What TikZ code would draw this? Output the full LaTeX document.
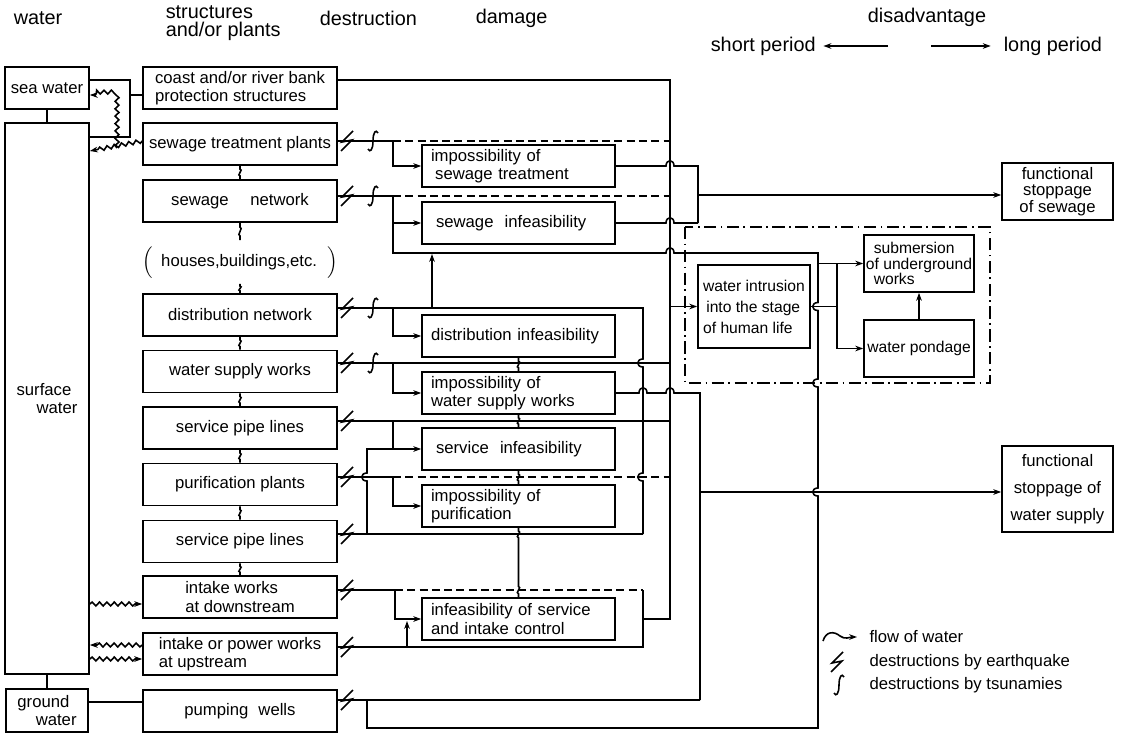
\documentclass[tikz,border=0pt]{standalone}
\usepackage{fontspec}
\setmainfont{Liberation Sans}
\usetikzlibrary{arrows.meta,calc,decorations.pathmorphing}

% hop of a horizontal line over a vertical one, and of a vertical line round a horizontal one
\newcommand{\hopx}[2]{-- (#1-4,#2) .. controls (#1-4,#2-7) and (#1+4,#2-7) .. (#1+4,#2)}
\newcommand{\hopy}[2]{-- (#1,#2-4) .. controls (#1-7,#2-4) and (#1-7,#2+4) .. (#1,#2+4)}

\begin{document}
\begin{tikzpicture}[x=0.02cm, y=-0.02cm, line width=0.9pt,
  txt/.style={font=\fontsize{9.5}{10.5}\selectfont, inner sep=1pt},
  hdr/.style={font=\fontsize{11.3}{10.6}\selectfont, inner sep=0pt, anchor=west},
  wbox/.style={txt, draw, line width=0.95pt, minimum width=1.68cm, minimum height=0.84cm},
  sbox/.style={txt, draw, line width=0.95pt, minimum width=3.88cm, minimum height=0.84cm, align=left},
  dbox/.style={txt, draw, line width=0.95pt, minimum height=0.84cm, text width=3.5cm, inner xsep=0.18cm, align=left},
  rbox/.style={txt, draw, line width=0.95pt, align=center},
  arr/.style={-{Stealth[length=4.5pt,width=3.2pt]}},
  wavy/.style={decorate, decoration={snake, amplitude=1.1pt, segment length=4.2pt, post length=3pt}},
  dashln/.style={dash pattern=on 4.5pt off 2.5pt},
  zone/.style={dash pattern=on 7pt off 2.5pt on 1pt off 2.5pt},
  squig/.style={to path={-- ($(\tikztostart)!0.25!(\tikztotarget)$) .. controls +(4,0) and +(-4,0) .. ($(\tikztostart)!0.75!(\tikztotarget)$) -- (\tikztotarget)}},
  quake/.pic={\draw (6,-10) -- (-5,1) -- (5,-1) -- (-6,10);},
  tsu/.pic={\draw (-5,8) .. controls (-3,12) and (0,9) .. (0,0) .. controls (0,-9) and (3,-12) .. (5,-8);}
]

\useasboundingbox (0,0) rectangle (1122,733);

% headings

\node[hdr] (hwater) at (13,18) {water};
\node[hdr, align=left] (hstruct) at (165,23) {structures\\and/or plants};
\node[hdr] (hdestr) at (319,18) {destruction};
\node[hdr] (hdam) at (475,18) {damage};
\node[hdr, anchor=center] (hdis) at (927,17) {disadvantage};
\node[hdr] (hshort) at (710,46) {short period};
\node[hdr] (hlong) at (1003,46) {long period};
\coordinate (lfrom) at (888,46);
\coordinate (rfrom) at (931,46);
\draw[arr] (lfrom) -- ([xshift=4pt]hshort.east);
\draw[arr] (rfrom) -- ([xshift=-7pt]hlong.west);

% water nodes

\node[wbox] (sea) at (47,88) {sea water};
\node[wbox, minimum height=11.02cm, align=left] (surf) at (47,398.5) {surface\\\hspace*{1.2em}water};
\node[wbox, minimum width=1.64cm, minimum height=0.86cm, align=left] (gnd) at (47,710.5) {ground\\\hspace*{1.1em}water};

% structure nodes

\node[sbox] (coast) at (240,88) {coast and/or river bank\\protection structures};
\node[sbox] (stp) at (240,144) {sewage treatment plants};
\node[sbox] (swn) at (240,201) {sewage\hspace{1.3em}network};
\node[txt, minimum height=0.84cm] (house) at (240,262) {$\Big($\hspace{0.5em}houses,buildings,etc.\hspace{0.6em}$\Big)$};
\node[sbox] (dnw) at (240,315) {distribution network};
\node[sbox] (wsw) at (240,371.5) {water supply works};
\node[sbox] (spl) at (240,428) {service pipe lines};
\node[sbox] (pur) at (240,484.5) {purification plants};
\node[sbox] (spl2) at (240,541.5) {service pipe lines};
\node[sbox] (ind) at (240,597) {intake works\\at downstream};
\node[sbox] (inu) at (240,654) {intake or power works\\at upstream};
\node[sbox] (pw) at (240,711) {pumping\hspace{0.6em}wells};

% damage nodes

\node[dbox] (ist) at (518.5,166) {impossibility of\\\hspace*{0.25em}sewage treatment};
\node[dbox] (sinf) at (518.5,223) {\hspace*{0.3em}sewage\ \ infeasibility};
\node[dbox] (dinf) at (518.5,336) {distribution infeasibility};
\node[dbox] (iws) at (518.5,393) {impossibility of\\water supply works};
\node[dbox] (svi) at (518.5,449) {\hspace*{0.3em}service\ \ infeasibility};
\node[dbox] (ipur) at (518.5,506) {impossibility of\\purification};
\node[dbox] (isc) at (518.5,619) {infeasibility of service\\and intake control};

% disadvantage nodes

\node[rbox, minimum width=2.22cm, minimum height=1.14cm, font=\fontsize{9.5}{9.5}\selectfont] (fss) at (1057.5,191.5) {functional\\stoppage\\of sewage};
\node[rbox, minimum width=2.22cm, minimum height=1.72cm] (fsw) at (1057.5,489) {functional\\[5pt]stoppage of\\[5pt]water supply};
\node[rbox, minimum width=2.24cm, minimum height=1.66cm, align=left, font=\fontsize{8.9}{12}\selectfont] (wint) at (754,306.5) {water intrusion\\\hspace*{0.2em}into the stage\\of human life};
\node[rbox, minimum width=2.2cm, minimum height=1.14cm, align=left, font=\fontsize{8.9}{8.9}\selectfont] (sub) at (919,263.5) {\hspace*{0.5em}submersion\\of underground\\\hspace*{0.5em}works};
\node[rbox, minimum width=2.2cm, minimum height=1.14cm, font=\fontsize{8.9}{10}\selectfont] (pond) at (919,348.5) {water pondage};

% water to structures

\draw (sea.south) -- (surf.north);
\draw (surf.south) -- (gnd.north);
\draw (sea.east |- 0,80) -- (130,80) -- (130,137) -- (surf.east |- 0,137);
\draw (130,95) -- (coast.west |- 0,95);
\draw[wavy, arr] (stp.west |- 0,141) -- (surf.east |- 0,151);
\draw[wavy, arr] (117,148) -- (117,95) -- (sea.east |- 0,95);
\draw[wavy, arr] (surf.east |- 0,604) -- (ind.west |- 0,604);
\draw[wavy, arr] (inu.west |- 0,645) -- (surf.east |- 0,645);
\draw[wavy, arr] (surf.east |- 0,659) -- (inu.west |- 0,659);
\draw (gnd.east |- 0,702) -- (pw.west |- 0,702);

% links between structures

\draw (stp.south) to[squig] (swn.north);
\draw (swn.south) to[squig] (house.north);
\draw (house.south) to[squig] (dnw.north);
\draw (dnw.south) to[squig] (wsw.north);
\draw (wsw.south) to[squig] (spl.north);
\draw (spl.south) to[squig] (pur.north);
\draw (pur.south) to[squig] (spl2.north);
\draw (spl2.south) to[squig] (ind.north);

% links between damages

\draw (dinf.south) to[squig] (iws.north);
\draw (iws.south) to[squig] (svi.north);
\draw (svi.south) to[squig] (ipur.north);
\draw (ipur.south) to[squig] (518.5,541) -- (518.5,583) to[squig] (isc.north);

% coast line and collecting line

\draw (coast.east |- 0,80) -- (670,80) -- (670,619) -- (643,619);

% sewage

\draw (stp.east |- 0,141) -- (393,141);
\draw[dashln] (393,141) -- (670,141);
\draw[arr] (393,141) |- (ist.west);
\draw (swn.east |- 0,196) -- (393,196);
\draw[dashln] (393,196) -- (670,196);
\draw[arr] (393,196) |- (sinf.west);
\draw (393,223) -- (393,253) \hopx{670}{253} -- (818,253) \hopy{818}{306.5} \hopy{818}{383} \hopy{818}{492} -- (818,728) -- (367,728) -- (367,700);
\draw (ist.east) \hopx{670}{166} -- (698,166) -- (698,223);
\draw (sinf.east) \hopx{670}{223} -- (698,223);
\draw[arr] (698,195) -- (fss.west |- 0,195);

% distribution and water supply

\draw (dnw.east |- 0,308) -- (643,308) \hopy{643}{363} \hopy{643}{477} -- (643,534);
\draw[arr] (393,308) |- (dinf.west);
\draw[arr] (432,308) -- (432,254);
\draw (wsw.east |- 0,363) -- (670,363);
\draw[arr] (393,363) |- (iws.west);
\draw (iws.east) \hopx{643}{393} \hopx{670}{393} -- (700,393) -- (700,700);
\draw[arr] (700,492) -- (fsw.west |- 0,492);

% service pipe lines and purification

\draw (spl.east |- 0,421) -- (670,421);
\draw[arr] (393,421) |- (svi.west);
\draw (spl2.east |- 0,534) -- (643,534);
\draw (393,449) -- (367,449) \hopy{367}{477} -- (367,534);
\draw (pur.east |- 0,477) -- (393,477);
\draw[dashln] (393,477) -- (670,477);
\draw[arr] (393,477) |- (ipur.west);

% intake works and pumping wells

\draw (ind.east |- 0,590) -- (395,590);
\draw[dashln] (395,590) -- (643,590);
\draw[arr] (395,590) |- (isc.west);
\draw (inu.east |- 0,647) -- (643,647) -- (643,590);
\draw[arr] (407,647) -- (407,621);
\draw (pw.east |- 0,700) -- (700,700);

% earthquake and tsunami marks

\pic at (347,141) {quake};
\pic at (347,196) {quake};
\pic at (347,308) {quake};
\pic at (347,363) {quake};
\pic at (347,421) {quake};
\pic at (347,477) {quake};
\pic at (347,534) {quake};
\pic at (347,590) {quake};
\pic at (347,647) {quake};
\pic at (347,700) {quake};
\pic at (373,141) {tsu};
\pic at (373,196) {tsu};
\pic at (373,308) {tsu};
\pic at (373,363) {tsu};

% human life

\draw[zone] (685,227) rectangle (990,383);
\draw[arr] (670,306.5) -- (wint.west);
\draw (wint.east) -- (837,306.5);
\draw[arr] (837,263.5) |- (pond.west);
\draw[arr] (818,263.5) -- (sub.west);
\draw[arr] (pond.north) -- (sub.south);

% legend

\coordinate (lg0) at (823,641);
\coordinate (lg1) at (857,637);
\draw[arr] (lg0) .. controls (826,631) and (834,631) .. (840,636) .. controls (845,640) and (850,637) .. (lg1);
\node[txt, anchor=west] (lgflow) at (867,637) {flow of water};
\pic at (837,662) {quake};
\node[txt, anchor=west] (lgquake) at (867,662) {destructions by earthquake};
\pic at (839,685) {tsu};
\node[txt, anchor=west] (lgtsu) at (867,685) {destructions by tsunamies};

\end{tikzpicture}
\end{document}
